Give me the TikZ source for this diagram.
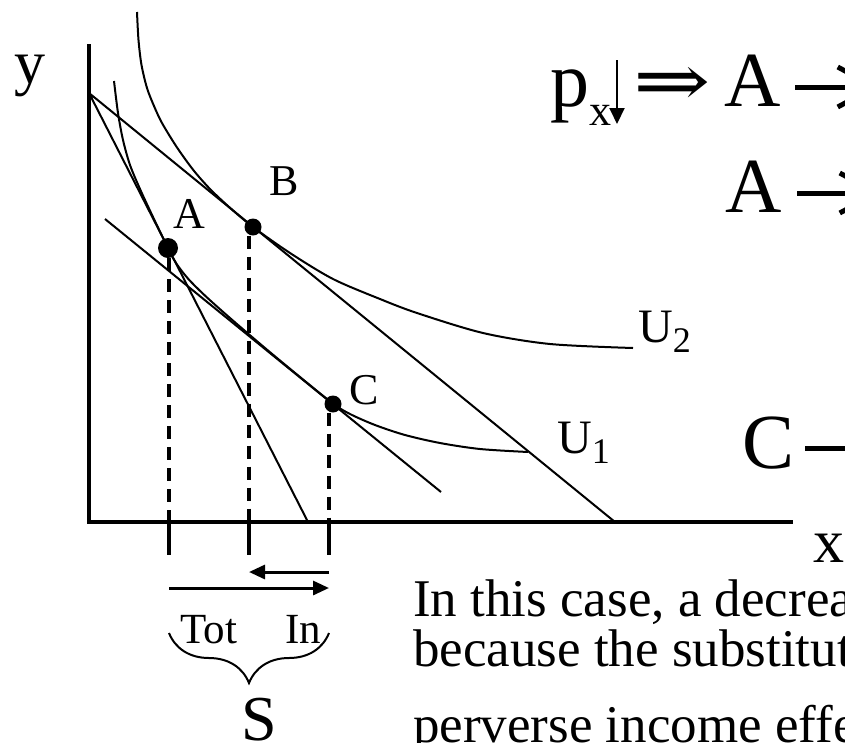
\documentclass[tikz,border=0pt]{standalone}
\usepackage{fontspec}
\setmainfont{Liberation Serif}
\newfontfamily\symfont{DejaVu Serif}
\usetikzlibrary{arrows.meta,decorations.pathreplacing}
\newcommand\lowix[3]{\raisebox{-#1pt}{\fontsize{#2}{#2}\selectfont #3}}

\begin{document}
\begin{tikzpicture}[
  x=1pt, y=-1pt,
  curve/.style={line width=2pt},
  axis/.style={line width=3.5pt},
  dashline/.style={line width=4pt, dash pattern=on 13pt off 8pt},
  tick/.style={line width=3.5pt},
  harrow/.style={line width=3pt, -{Triangle[length=16pt,width=14pt]}},
  bigarrow/.style={line width=5pt, -{Straight Barb[length=37pt,width=40pt]}},
  brc/.style={line width=2pt, decorate, decoration={brace, mirror, amplitude=50pt}},
  dot/.style={circle, fill, inner sep=0pt, minimum size=#1},
  lbl/.style={inner sep=0pt, anchor=base west, font=\fontsize{44}{44}\selectfont},
  big/.style={inner sep=0pt, anchor=base west, font=\fontsize{78}{78}\selectfont},
  axlbl/.style={inner sep=0pt, anchor=base west, font=\fontsize{62}{62}\selectfont},
  body/.style={inner sep=0pt, anchor=base west, font=\fontsize{53}{53}\selectfont}
]
\useasboundingbox (0,0) rectangle (845,742);
\clip (0,0) rectangle (845,742);

\coordinate (O) at (89,522);
\coordinate (ytop) at (89,44);
\coordinate (xend) at (793,522);
\coordinate (I0) at (89,93);
\coordinate (I1) at (308,522);
\coordinate (I2) at (615,522);
\coordinate (Ls) at (105,219);
\coordinate (Le) at (441,492);
\coordinate (xA) at (169,522);
\coordinate (xB) at (249,522);
\coordinate (xC) at (329,522);

\draw[axis] (ytop) -- (O) -- (xend);
\draw[curve] (I0) -- (I1) (I0) -- (I2);
\draw[curve] (Ls) -- (Le);

\draw[curve] plot[smooth] coordinates {(114,81) (118,113) (123,140) (130,165) (140,189)
  (153,217) (168,248) (176,263) (188,278.6) (205,295.6) (230,318) (265,348) (300,377)
  (333,403.6) (350,414) (375,425) (405,435) (440,443) (480,449) (528,452)};
\draw[curve] plot[smooth] coordinates {(137,12) (138.5,40) (141.5,65) (147,88) (154,106)
  (162,123) (176.7,147) (193.3,170) (210,189) (230,207.8) (253,227) (290,253)
  (333,279) (380,299) (417,313) (483,333) (550,344) (633,348)};

\node[dot=20pt] (A) at (168,248) {};
\node[dot=17pt] (B) at (253,227) {};
\node[dot=17pt] (C) at (333,404) {};
\node[lbl] (labA) at (173,228) {A};
\node[lbl] (labB) at (269,195) {B};
\node[lbl] (labC) at (349,404) {C};
\node[lbl, font=\fontsize{48}{48}\selectfont] (U2) at (638,342) {U\lowix{10}{36}{2}};
\node[lbl, font=\fontsize{48}{48}\selectfont] (U1) at (557,453) {U\lowix{10}{36}{1}};

\draw[dashline] (xA |- A.south) -- (xA);
\draw[dashline] (xB |- B.south) -- (xB);
\draw[dashline] (xC |- C.south) -- (xC);
\draw[tick] (xA) -- ++(0,33);
\draw[tick] (xB) -- ++(0,33);
\draw[tick] (xC) -- ++(0,33);
\draw[harrow] ([yshift=-50pt]xC) -- ([yshift=-50pt]xB);
\draw[harrow] ([yshift=-66pt]xA) -- ([yshift=-66pt]xC);
\draw[brc] ([yshift=-111pt]xA) -- ([yshift=-111pt]xC);
\node[lbl, font=\fontsize{43}{43}\selectfont] (tot) at (180,643) {Tot};
\node[lbl, font=\fontsize{43}{43}\selectfont] (in) at (285,643) {In};
\node[axlbl, font=\fontsize{64}{64}\selectfont] (S) at (241,740) {S};

\node[axlbl] (ylab) at (14,83) {y};
\node[axlbl] (xlab) at (813,562) {x};

\node[big] (px) at (550,106) {p\lowix{19}{44}{x}};
\coordinate (dtop) at (617,60);
\coordinate (dbot) at (617,124);
\draw[line width=2pt, -{Triangle[length=16pt,width=15pt]}] (dtop) -- (dbot);
\node[big, xscale=1.25] (impl) at (633,106.5) {\symfont\fontsize{74}{74}\selectfont ⇒};
\node[big] (A1) at (724,106) {A};
\node[big] (A2) at (725,212) {A};
\node[big] (C3) at (742,468) {C};
\coordinate (a1s) at (795,87);
\coordinate (a1e) at (880,87);
\coordinate (a2s) at (797,193);
\coordinate (a2e) at (882,193);
\coordinate (c3s) at (805,448);
\coordinate (c3e) at (900,448);
\draw[bigarrow] (a1s) -- (a1e);
\draw[bigarrow] (a2s) -- (a2e);
\draw[bigarrow] (c3s) -- (c3e);

\node[body] (t1) at (413,616) {In this case, a decrea};
\node[body] (t2) at (413,666) {because the substitut};
\node[body] (t3) at (413,742) {perverse income effe};
\end{tikzpicture}
\end{document}
